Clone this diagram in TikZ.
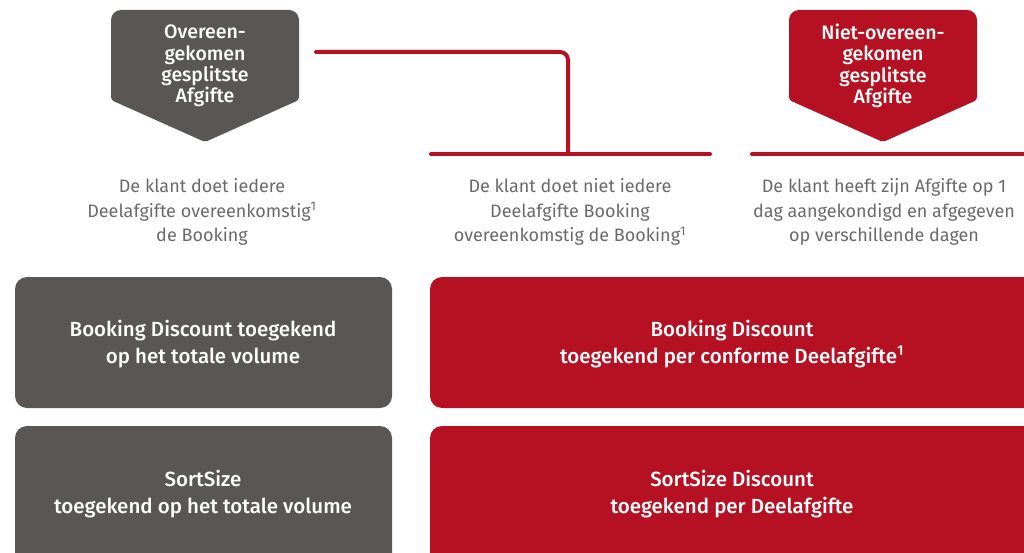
\documentclass[tikz,border=0pt]{standalone}
\usepackage{fontspec}
\setmainfont{Fira Sans}[BoldFont={Fira Sans Medium}]
\usetikzlibrary{positioning}
\definecolor{pnlgray}{HTML}{585756}
\definecolor{pnlred}{HTML}{B51122}
\definecolor{txtgray}{HTML}{6A6A6A}
\tikzset{
  box/.style={fill=#1, rounded corners=12pt},
  boxtext/.style={text=white, align=center, font=\bfseries\fontsize{20.5}{26.5}\selectfont},
  tagtext/.style={text=white, align=center, font=\bfseries\fontsize{19.5}{21.3}\selectfont},
  desc/.style={text=txtgray, align=center, font=\fontsize{18}{24.5}\selectfont},
  redline/.style={draw=pnlred, line width=4pt, line cap=round}
}

\begin{document}
\begin{tikzpicture}[x=1pt,y=-1pt]
\useasboundingbox (0,0) rectangle (1024,553);
\clip (0,0) rectangle (1024,553);
% tags
\fill[pnlgray, rounded corners=3pt] (111,100) {[rounded corners=10pt] -- (111,10) -- (299,10)} -- (299,100) -- (205,142) -- cycle;
\fill[pnlred, rounded corners=3pt] (789,100) {[rounded corners=10pt] -- (789,10) -- (977,10)} -- (977,100) -- (883,142) -- cycle;
\node[tagtext] (agreed) at (205,66) {Overeen-\\gekomen\\gesplitste\\Afgifte};
\node[tagtext] (notagreed) at (883,66) {Niet-overeen-\\gekomen\\gesplitste\\Afgifte};
% lines
\coordinate (l0) at (316,52);
\coordinate (lm) at (568,154);
\coordinate (ma) at (431,154);
\coordinate (mb) at (710,154);
\coordinate (ra) at (752,154);
\coordinate (rb) at (1030,154);
\draw[redline, rounded corners=8pt] (l0) -| (lm);
\draw[redline] (ma) -- (mb);
\draw[redline] (ra) -- (rb);
% descriptions
\node[desc] (d1) at (202,212) {De klant doet iedere\\Deelafgifte overeenkomstig\textsuperscript{1}\\de Booking};
\node[desc] (d2) at (570,212) {De klant doet niet iedere\\Deelafgifte Booking\\overeenkomstig de Booking\textsuperscript{1}};
\node[desc] (d3) at (884,212) {De klant heeft zijn Afgifte op 1\\dag aangekondigd en afgegeven\\op verschillende dagen};
% boxes
\fill[box=pnlgray] (15,277) rectangle (392,408);
\fill[box=pnlgray] (15,426) rectangle (392,570);
\fill[box=pnlred] (430,277) rectangle (1040,408);
\fill[box=pnlred] (430,426) rectangle (1040,570);
\node[boxtext] (b1) at (203,344) {Booking Discount toegekend\\op het totale volume};
\node[boxtext] (b2) at (203,494) {SortSize\\toegekend op het totale volume};
\node[boxtext] (b3) at (732,344) {Booking Discount\\toegekend per conforme Deelafgifte\textsuperscript{1}};
\node[boxtext] (b4) at (732,494) {SortSize Discount\\toegekend per Deelafgifte};
\end{tikzpicture}
\end{document}
